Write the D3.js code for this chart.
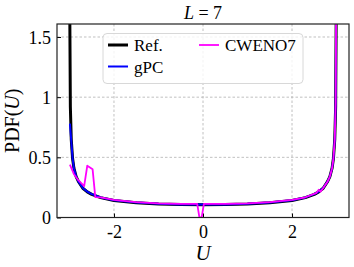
<!DOCTYPE html>
<html>
<head>
<meta charset="utf-8">
<script src="https://cdn.jsdelivr.net/npm/d3@7"></script>
<style>
  body { margin: 0; background: white; }
  svg, svg text { font-family: 'Liberation Serif', 'DejaVu Serif', serif !important; }
</style>
</head>
<body>
<svg id="chart" width="354" height="267"></svg>
<script>
// values
const refU = [-2.995, -2.98, -2.96, -2.93, -2.9, -2.85, -2.8, -2.7, -2.6, -2.5, -2.3, -2.0, -1.5, -1.0, -0.5, 0, 0.5, 1.0, 1.5, 2.0, 2.3, 2.5, 2.6, 2.7, 2.8, 2.85, 2.9, 2.93, 2.96, 2.98, 2.995];
const refPdf = [1.84, 0.92, 0.65, 0.49, 0.41, 0.34, 0.30, 0.243, 0.213, 0.192, 0.165, 0.142, 0.123, 0.113, 0.108, 0.106, 0.108, 0.113, 0.123, 0.142, 0.165, 0.192, 0.213, 0.243, 0.30, 0.34, 0.41, 0.49, 0.65, 0.92, 1.84];

const gpcU = [-2.99, -2.96, -2.93, -2.9, -2.85, -2.8, -2.7, -2.6, -2.5, -2.3, -2.0, -1.5, -1.0, -0.5, 0, 0.5, 1.0, 1.5, 2.0, 2.3, 2.5, 2.6, 2.7, 2.8, 2.85, 2.9, 2.93, 2.96, 2.98, 2.99];
const gpcPdf = [0.78, 0.64, 0.49, 0.41, 0.34, 0.30, 0.245, 0.215, 0.194, 0.167, 0.144, 0.125, 0.114, 0.109, 0.108, 0.109, 0.114, 0.125, 0.144, 0.167, 0.194, 0.215, 0.245, 0.30, 0.34, 0.41, 0.49, 0.65, 0.95, 1.7];

const cwenoU = [-2.99, -2.9, -2.8, -2.67, -2.6, -2.48, -2.42, -2.3, -2.0, -1.5, -1.0, -0.5, -0.13, -0.08, -0.03, 0.02, 0.5, 1.0, 1.5, 2.0, 2.3, 2.55, 2.6, 2.64, 2.7, 2.8, 2.85, 2.9, 2.93, 2.96, 2.98, 2.99];
const cwenoPdf = [0.44, 0.36, 0.31, 0.26, 0.43, 0.40, 0.17, 0.168, 0.146, 0.127, 0.117, 0.113, 0.113, 0.0, 0.0, 0.113, 0.113, 0.117, 0.127, 0.146, 0.168, 0.205, 0.23, 0.215, 0.245, 0.30, 0.34, 0.41, 0.49, 0.65, 0.95, 1.7];

const xTicks = [-2, 0, 2];
const yTicks = [0, 0.5, 1, 1.5];
const seriesNames = ['Ref.', 'gPC', 'CWENO7'];
const seriesColors = ['#000000', '#0000ff', '#ff00ff'];
const seriesWidths = [3, 2, 1.8];

const margin = { left: 57, right: 5, top: 24, bottom: 49.5 };
const width = 354 - margin.left - margin.right;
const height = 267 - margin.top - margin.bottom;

let svg = d3.select('#chart');
svg.append('defs').append('clipPath').attr('id', 'clip')
  .append('rect').attr('width', width).attr('height', height);

let g = svg.append('g').attr('transform', `translate(${margin.left},${margin.top})`);

let x = d3.scaleLinear().domain([-3.28, 3.28]).range([0, width]);
let y = d3.scaleLinear().domain([0, 1.608]).range([height, 0]);

// grid
g.selectAll('.gx').data(xTicks).join('line')
  .attr('x1', (d) => x(d)).attr('x2', (d) => x(d))
  .attr('y1', 0).attr('y2', height)
  .attr('stroke', '#b0b0b0').attr('stroke-width', 0.8).attr('stroke-dasharray', '2.5,2');
g.selectAll('.gy').data(yTicks).join('line')
  .attr('y1', (d) => y(d)).attr('y2', (d) => y(d))
  .attr('x1', 0).attr('x2', width)
  .attr('stroke', '#b0b0b0').attr('stroke-width', 0.8).attr('stroke-dasharray', '2.5,2');

// axes with inward ticks
let xAxis = g.append('g').attr('transform', `translate(0,${height})`)
  .call(d3.axisBottom(x).tickValues(xTicks).tickSizeInner(-4).tickSizeOuter(0).tickPadding(8).tickFormat(d3.format('d')));
let yAxis = g.append('g')
  .call(d3.axisLeft(y).tickValues(yTicks).tickSizeInner(-4).tickSizeOuter(0).tickPadding(6).tickFormat((d) => String(d)));
[xAxis, yAxis].forEach((a) => {
  a.attr('font-family', null);
  a.select('.domain').remove();
  a.selectAll('text').attr('font-size', 18).attr('fill', '#000')
    .text(function () { return d3.select(this).text().replace('−', '-'); });
  a.selectAll('line').attr('stroke', '#000');
});
xAxis.selectAll('text').attr('dy', '0.72em');
yAxis.selectAll('text').attr('dy', '0.34em');

// curves
let line = d3.line().x((d) => x(d[0])).y((d) => y(d[1]));
let series = [
  d3.zip(refU, refPdf),
  d3.zip(gpcU, gpcPdf),
  d3.zip(cwenoU, cwenoPdf),
];
g.append('g').attr('clip-path', 'url(#clip)')
  .selectAll('path').data(series).join('path')
  .attr('d', line)
  .attr('fill', 'none')
  .attr('stroke', (d, i) => seriesColors[i])
  .attr('stroke-width', (d, i) => seriesWidths[i])
  .attr('stroke-linejoin', 'round');

// frame
g.append('rect').attr('width', width).attr('height', height)
  .attr('fill', 'none').attr('stroke', '#222').attr('stroke-width', 1.2);

// legend
let leg = g.append('g').attr('transform', 'translate(46,9.5)');
leg.append('rect').attr('width', 200).attr('height', 50).attr('rx', 4)
  .attr('fill', 'white').attr('fill-opacity', 0.8)
  .attr('stroke', '#d8d8d8').attr('stroke-width', 1);
let legPos = [[5, 11.5], [5, 33], [96, 11.5]];
let items = leg.selectAll('.item').data(seriesNames).join('g')
  .attr('transform', (d, i) => `translate(${legPos[i][0]},${legPos[i][1]})`);
items.append('line').attr('x1', 0).attr('x2', 20)
  .attr('stroke', (d, i) => seriesColors[i])
  .attr('stroke-width', (d, i) => seriesWidths[i]);
items.append('text').attr('x', 26).attr('y', 6).attr('font-size', 17).text((d) => d);

// title and labels
let title = svg.append('text').attr('x', margin.left + x(0)).attr('y', 19)
  .attr('text-anchor', 'middle').attr('font-size', 18);
title.append('tspan').attr('font-style', 'italic').text('L');
title.append('tspan').text(' = 7');

svg.append('text').attr('x', margin.left + x(0)).attr('y', 260)
  .attr('text-anchor', 'middle').attr('font-size', 21).attr('font-style', 'italic').text('U');

let ylab = svg.append('text').attr('transform', `translate(19,${margin.top + height / 2}) rotate(-90)`)
  .attr('text-anchor', 'middle').attr('font-size', 20);
ylab.append('tspan').text('PDF(');
ylab.append('tspan').attr('font-style', 'italic').text('U');
ylab.append('tspan').text(')');
</script>
</body>
</html>
